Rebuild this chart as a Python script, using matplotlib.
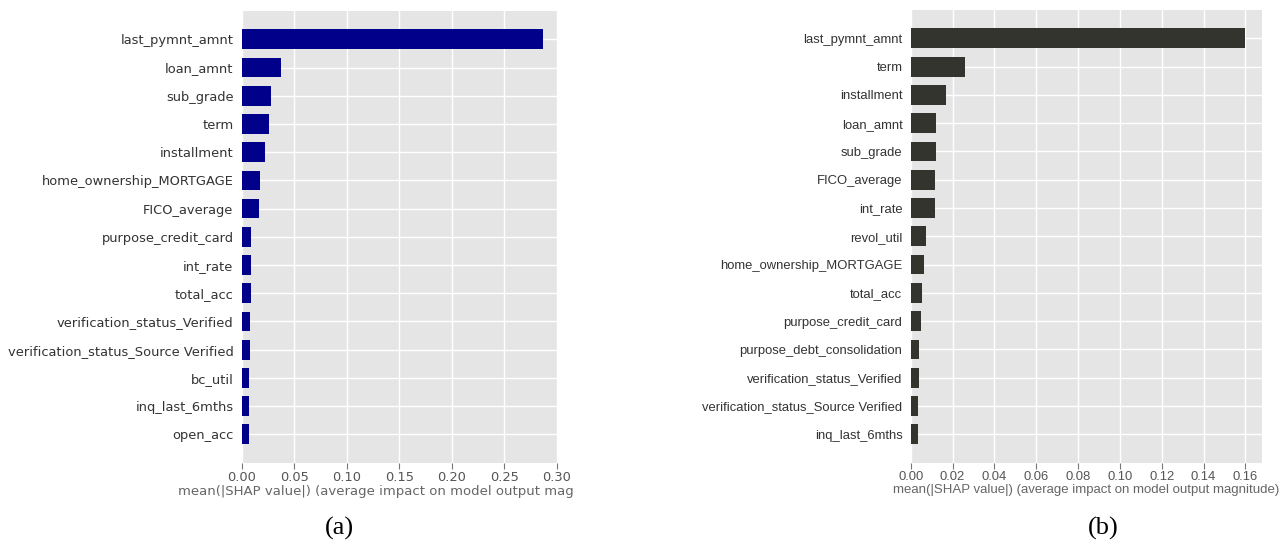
import matplotlib
matplotlib.use("Agg")
import matplotlib.pyplot as plt
import numpy as np
from matplotlib.transforms import Bbox

# panel (a): features, top to bottom
features_a = ["last_pymnt_amnt", "loan_amnt", "sub_grade", "term", "installment",
              "home_ownership_MORTGAGE", "FICO_average", "purpose_credit_card",
              "int_rate", "total_acc", "verification_status_Verified",
              "verification_status_Source Verified", "bc_util", "inq_last_6mths",
              "open_acc"]
shap_a = [0.2864, 0.0375, 0.0276, 0.0264, 0.0225, 0.0175, 0.0166, 0.0086,
          0.0086, 0.0086, 0.0077, 0.0077, 0.0068, 0.0068, 0.0068]
ticks_a = [0.00, 0.05, 0.10, 0.15, 0.20, 0.25, 0.30]

# panel (b)
features_b = ["last_pymnt_amnt", "term", "installment", "loan_amnt", "sub_grade",
              "FICO_average", "int_rate", "revol_util", "home_ownership_MORTGAGE",
              "total_acc", "purpose_credit_card", "purpose_debt_consolidation",
              "verification_status_Verified", "verification_status_Source Verified",
              "inq_last_6mths"]
shap_b = [0.1598, 0.0259, 0.0170, 0.0121, 0.0121, 0.0114, 0.0114, 0.0074,
          0.0065, 0.0055, 0.0049, 0.0039, 0.0039, 0.0034, 0.0034]
ticks_b = [0.00, 0.02, 0.04, 0.06, 0.08, 0.10, 0.12, 0.14, 0.16]

xlabel = "mean(|SHAP value|) (average impact on model output magnitude)"

plt.style.use("ggplot")

fig = plt.figure(figsize=(12.88, 5.59), dpi=100)
fig.patch.set_facecolor("white")


def shap_bar(ax, names, values, ticks, color, family, label_size):
    y = np.arange(len(names))[::-1]
    ax.barh(y, values, height=0.7, color=color, zorder=3)
    ax.set_yticks(y)
    ax.set_yticklabels(names, family=family, fontsize=9.4, color="#333333")
    ax.set_ylim(-1, 15)
    ax.set_xticks(ticks)
    ax.set_xticklabels([f"{t:.2f}" for t in ticks], family=family,
                       fontsize=9.4, color="#555555")
    ax.tick_params(axis="y", length=0, pad=6)
    ax.tick_params(axis="x", length=4, width=0.8, color="#777777", pad=2)
    ax.grid(True, color="white", linewidth=1.0)
    ax.set_axisbelow(True)
    for s in ax.spines.values():
        s.set_visible(False)
    ax.set_xlabel(xlabel, family=family, fontsize=label_size, color="#666666",
                  labelpad=1)


ax_a = fig.add_axes([0.1877, 0.1725, 0.2453, 0.8077])
shap_bar(ax_a, features_a, shap_a, ticks_a, "#00008B", "DejaVu Sans", 9.55)
# the original panel is cropped on its right edge
ax_a.xaxis.label.set_clip_box(Bbox([[0, 0], [575, 559]]))
ax_a.xaxis.label.set_clip_on(True)

ax_b = fig.add_axes([0.7071, 0.1725, 0.2725, 0.8095])
shap_bar(ax_b, features_b, shap_b, ticks_b, "#34342f", "Liberation Sans", 9.5)

fig.text(339 / 1288, 1 - 528 / 559, "(a)", family="Liberation Serif",
         fontsize=19, ha="center", va="center", color="black")
fig.text(1103 / 1288, 1 - 528 / 559, "(b)", family="Liberation Serif",
         fontsize=19, ha="center", va="center", color="black")

fig.savefig("out.png", dpi=100)
